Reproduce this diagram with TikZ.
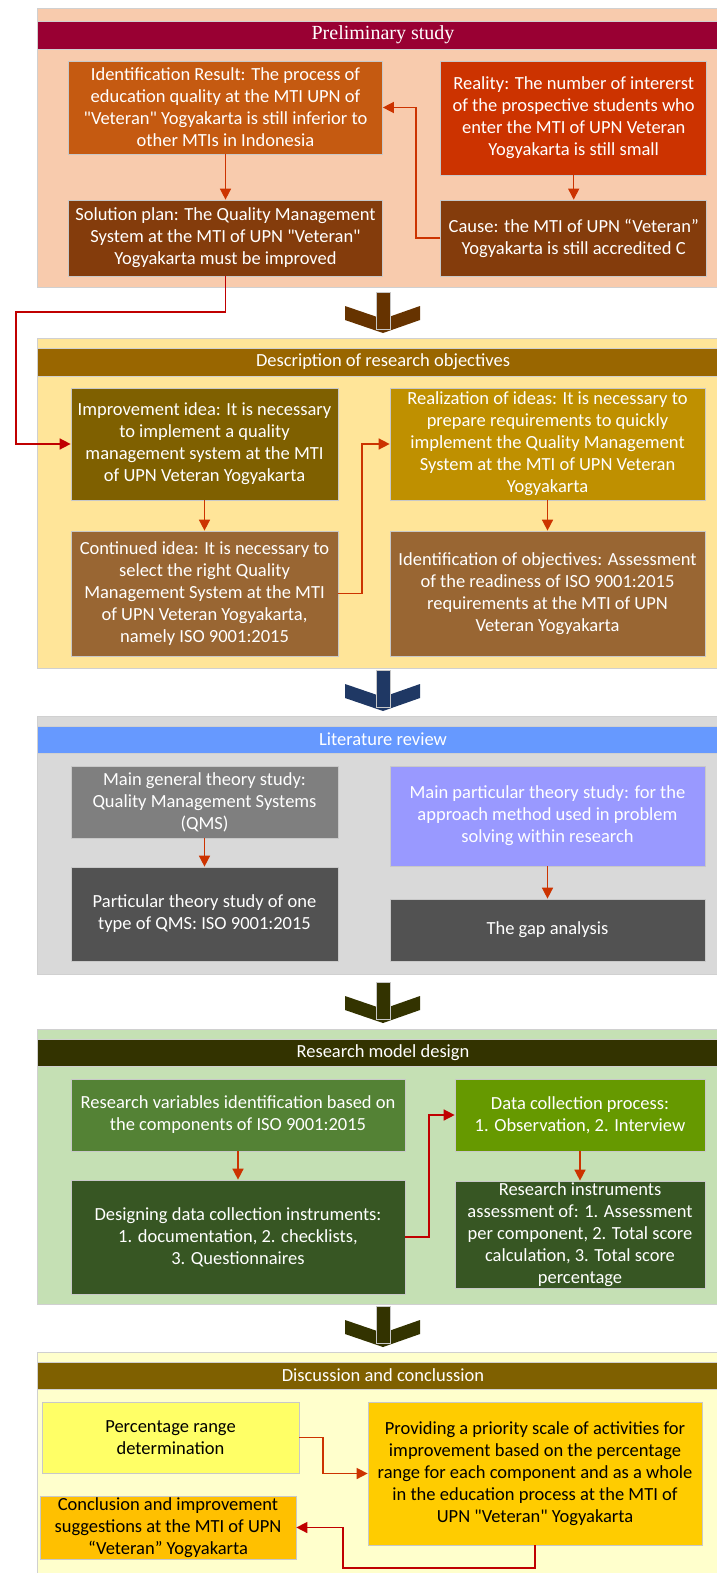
\documentclass[tikz,border=0pt]{standalone}
\usepackage{fontspec}
\newfontfamily\boxfont{Carlito}
\newfontfamily\titlefont{Liberation Serif}
\usetikzlibrary{arrows.meta}
\definecolor{boxline}{HTML}{C8C8C8}
\definecolor{sectline}{HTML}{D0D0D0}
\definecolor{conA}{HTML}{CC3300}
\definecolor{conB}{HTML}{C00000}
\definecolor{secA}{HTML}{F8CBAD}
\definecolor{hdrA}{HTML}{990033}
\definecolor{secB}{HTML}{FFE599}
\definecolor{hdrB}{HTML}{996600}
\definecolor{secC}{HTML}{D9D9D9}
\definecolor{hdrC}{HTML}{6699FF}
\definecolor{secD}{HTML}{C5E0B4}
\definecolor{hdrD}{HTML}{333300}
\definecolor{secE}{HTML}{FFFFCC}
\definecolor{hdrE}{HTML}{7F6000}
\definecolor{bigA}{HTML}{663300}
\definecolor{bigB}{HTML}{1F3864}
\definecolor{bigC}{HTML}{333300}
\definecolor{cA}{HTML}{C55A11}
\definecolor{cB}{HTML}{CC3300}
\definecolor{cC}{HTML}{843C0C}
\definecolor{cE}{HTML}{7F6000}
\definecolor{cF}{HTML}{996633}
\definecolor{cG}{HTML}{BF9000}
\definecolor{cI}{HTML}{7F7F7F}
\definecolor{cJ}{HTML}{525252}
\definecolor{cK}{HTML}{9999FF}
\definecolor{cM}{HTML}{548235}
\definecolor{cN}{HTML}{375623}
\definecolor{cO}{HTML}{669900}
\definecolor{cQ}{HTML}{FFFF66}
\definecolor{cR}{HTML}{FFCC00}
\definecolor{cS}{HTML}{FFC000}
\newcommand\bigarr[2]{%
  \fill[#2] (345,#1+14) -- (383,#1+27) -- (420,#1+14) -- (420,#1+28) -- (383,#1+41) -- (345,#1+28) -- cycle;
  \filldraw[fill=#2, draw=boxline, line width=0.6pt] (376,#1) rectangle (390,#1+37);
}
\begin{document}
\begin{tikzpicture}[x=1pt,y=-1pt,
  bx/.style={draw=boxline, line width=0.7pt, align=center, text=white, inner sep=0pt,
    font=\boxfont\fontsize{18.5}{22}\selectfont},
  sect/.style={draw=sectline, line width=0.8pt},
  hdr/.style={draw=sectline, line width=0.6pt, minimum width=692pt, inner sep=0pt, text=white,
    font=\boxfont\fontsize{18.5}{20}\selectfont},
  con/.style={draw=conA, line width=1.5pt, -{Triangle[length=11pt,width=11pt]}},
  conr/.style={con, draw=conB},
]
\useasboundingbox (0,0) rectangle (716,1573);
\fill[white] (0,0) rectangle (716,1573);

% ---------- Section 1
\path[sect, fill=secA] (37,8) rectangle (729,287);
\node[hdr, fill=hdrA, minimum height=28pt, font=\titlefont\fontsize{20}{22}\selectfont] (h1) at (383,35) {Preliminary study};
\node[bx, fill=cA, minimum width=314pt, minimum height=93pt] (A) at (225.5,107.5)
  {Identification Result: The process of\\education quality at the MTI UPN of\\"Veteran" Yogyakarta is still inferior to\\other MTIs in Indonesia};
\node[bx, fill=cB, minimum width=266pt, minimum height=114pt] (B) at (573.7,118)
  {Reality: The number of intererst\\of the prospective students who\\enter the MTI of UPN Veteran\\Yogyakarta is still small};
\node[bx, fill=cC, minimum width=314pt, minimum height=76pt] (C) at (225.5,238)
  {Solution plan: The Quality Management\\System at the MTI of UPN "Veteran"\\Yogyakarta must be improved};
\node[bx, fill=cC, minimum width=266pt, minimum height=76pt] (D) at (573.7,238)
  {Cause: the MTI of UPN “Veteran”\\Yogyakarta is still accredited C};
\draw[con] (A) -- (C);
\draw[con] (B) -- (D);
\coordinate (dA) at (416,238);
\draw[con] (D.west) -- (dA) |- (A.east);

\bigarr{292}{bigA}

% ---------- Section 2
\path[sect, fill=secB] (37,338) rectangle (729,668);
\node[hdr, fill=hdrB, minimum height=28pt] (h2) at (383,362) {Description of research objectives};
\node[bx, fill=cE, minimum width=267pt, minimum height=112pt] (E) at (204.5,444)
  {Improvement idea: It is necessary\\to implement a quality\\management system at the MTI\\of UPN Veteran Yogyakarta};
\node[bx, fill=cF, minimum width=267pt, minimum height=125pt] (F) at (204.5,593.5)
  {Continued idea: It is necessary to\\select the right Quality\\Management System at the MTI\\of UPN Veteran Yogyakarta,\\namely ISO 9001:2015};
\node[bx, fill=cG, minimum width=315pt, minimum height=112pt] (G) at (547.5,444)
  {Realization of ideas: It is necessary to\\prepare requirements to quickly\\implement the Quality Management\\System at the MTI of UPN Veteran\\Yogyakarta};
\node[bx, fill=cF, minimum width=315pt, minimum height=125pt] (H) at (547.5,593.5)
  {Identification of objectives: Assessment\\of the readiness of ISO 9001:2015\\requirements at the MTI of UPN\\Veteran Yogyakarta};
\draw[con] (E) -- (F);
\draw[con] (G) -- (H);
\coordinate (fg) at (362,593.5);
\draw[con] (F.east) -- (fg) |- (G.west);
\coordinate (ce1) at (225.5,312);
\coordinate (ce2) at (16,312);
\draw[conr] (C.south) -- (ce1) -- (ce2) |- (E.west);

\bigarr{670}{bigB}

% ---------- Section 3
\path[sect, fill=secC] (37,716) rectangle (729,974);
\node[hdr, fill=hdrC, minimum height=27pt] (h3) at (383,739.5) {Literature review};
\node[bx, fill=cI, minimum width=267pt, minimum height=72pt] (I) at (204.5,802)
  {Main general theory study:\\Quality Management Systems\\(QMS)};
\node[bx, fill=cJ, minimum width=267pt, minimum height=94pt] (J) at (204.5,914)
  {Particular theory study of one\\type of QMS: ISO 9001:2015};
\node[bx, fill=cK, minimum width=315pt, minimum height=100pt] (K) at (547.5,816)
  {Main particular theory study: for the\\approach method used in problem\\solving within research};
\node[bx, fill=cJ, minimum width=315pt, minimum height=62pt] (L) at (547.5,930)
  {The gap analysis};
\draw[con] (I) -- (J);
\draw[con] (K) -- (L);

\bigarr{982}{bigC}

% ---------- Section 4
\path[sect, fill=secD] (37,1029) rectangle (729,1304);
\node[hdr, fill=hdrD, minimum height=27pt] (h4) at (383,1052.5) {Research model design};
\node[bx, fill=cM, minimum width=334pt, minimum height=72pt] (M) at (238,1115)
  {Research variables identification based on\\the components of ISO 9001:2015};
\node[bx, fill=cN, minimum width=334pt, minimum height=114pt] (N) at (238,1237)
  {Designing data collection instruments:\\1. documentation, 2. checklists,\\3. Questionnaires};
\node[bx, fill=cO, minimum width=250pt, minimum height=72pt] (O) at (580,1115)
  {Data collection process:\\1. Observation, 2. Interview};
\node[bx, fill=cN, minimum width=250pt, minimum height=107pt] (P) at (580,1234.5)
  {Research instruments\\assessment of: 1. Assessment\\per component, 2. Total score\\calculation, 3. Total score\\percentage};
\draw[con] (M) -- (N);
\draw[con] (O) -- (P);
\coordinate (no) at (429,1237);
\draw[conr] (N.east) -- (no) |- (O.west);

\bigarr{1306}{bigC}

% ---------- Section 5
\path[sect, fill=secE] (37,1352) rectangle (729,1590);
\node[hdr, fill=hdrE, minimum height=27pt] (h5) at (383,1375.5) {Discussion and conclussion};
\node[bx, fill=cQ, text=black, minimum width=257pt, minimum height=71pt] (Q) at (170.5,1437.5)
  {Percentage range\\determination};
\node[bx, fill=cR, text=black, minimum width=334pt, minimum height=143pt] (R) at (535,1473.5)
  {Providing a priority scale of activities for\\improvement based on the percentage\\range for each component and as a whole\\in the education process at the MTI of\\UPN "Veteran" Yogyakarta};
\node[bx, fill=cS, text=black, minimum width=256pt, minimum height=63pt] (S) at (168,1527.5)
  {Conclusion and improvement\\suggestions at the MTI of UPN\\“Veteran” Yogyakarta};
\coordinate (qr) at (323,1437.5);
\draw[con] (Q.east) -- (qr) |- (R.west);
\coordinate (rs1) at (535,1568);
\coordinate (rs2) at (343,1568);
\draw[conr] (R.south) -- (rs1) -- (rs2) |- (S.east);
\end{tikzpicture}
\end{document}
